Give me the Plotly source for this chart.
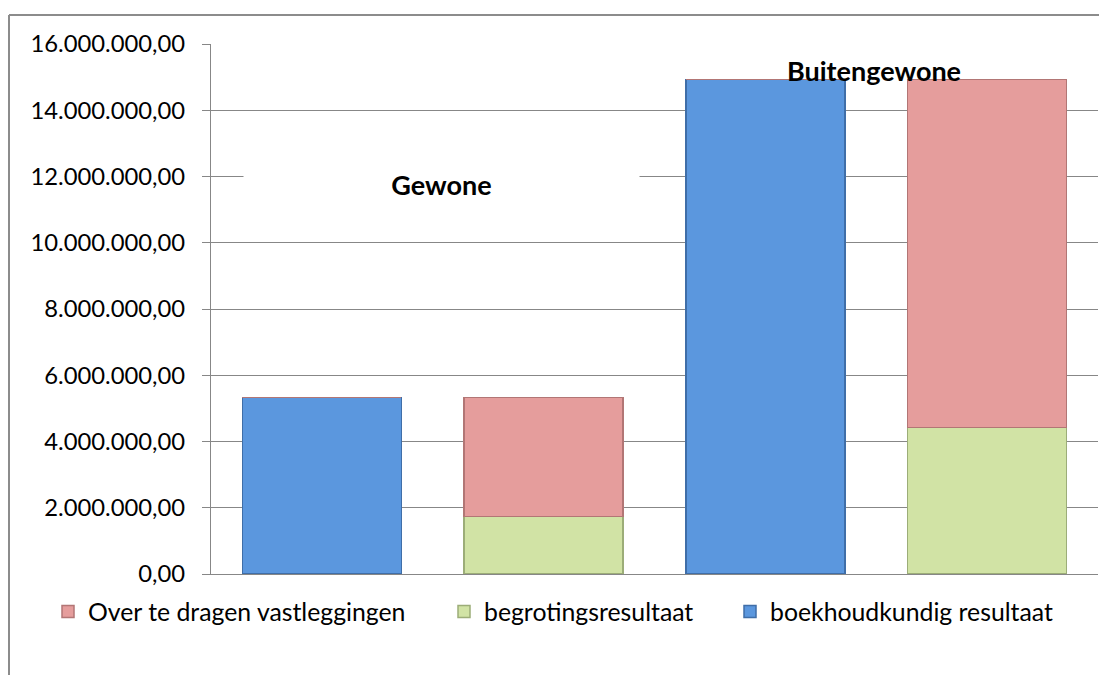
import plotly.graph_objects as go

categories = ["Gewone A", "Gewone B", "Buitengewone A", "Buitengewone B"]
boekhoudkundig = [5330000, 0, 14930000, 0]
begrotingsresultaat = [0, 1730000, 0, 4420000]
over_te_dragen = [0, 3600000, 0, 10510000]
tick_vals = [0, 2e6, 4e6, 6e6, 8e6, 10e6, 12e6, 14e6, 16e6]

FONT = "Lato"
OFF = 8  # page body margin
W, H = 1107 - OFF, 675 - OFF
L, R, T, B = 211 - OFF, 9, 44 - OFF, 101
pw, ph = W - L - R, H - T - B

def px_x(p):
    # screen pixel x -> paper coordinate
    return (p - OFF - L) / pw

def px_y(p):
    # screen pixel y -> paper coordinate
    return (H - B - (p - OFF)) / ph

fig = go.Figure()
fig.add_trace(go.Bar(x=categories, y=boekhoudkundig, name="boekhoudkundig resultaat",
                     marker=dict(color="#5B97DE", line=dict(color="#3F6EA8", width=1.5)),
                     legend="legend3"))
fig.add_trace(go.Bar(x=categories, y=begrotingsresultaat, name="begrotingsresultaat",
                     marker=dict(color="#D1E3A5", line=dict(color="#9CAD78", width=1.5)),
                     legend="legend2"))
fig.add_trace(go.Bar(x=categories, y=over_te_dragen, name="Over te dragen vastleggingen",
                     marker=dict(color="#E59D9C", line=dict(color="#B27675", width=1.5)),
                     legend="legend"))

leg_common = dict(orientation="h", yanchor="middle", y=px_y(612), xanchor="left",
                  font=dict(family=FONT, size=24.8, color="#000000"),
                  bgcolor="rgba(0,0,0,0)", borderwidth=0)

fig.update_layout(
    width=W, height=H,
    margin=dict(l=L, r=R, t=T, b=B),
    paper_bgcolor="white", plot_bgcolor="white",
    barmode="stack", bargap=0.283,
    separators=",.",
    font=dict(family=FONT, size=24, color="#000000"),
    showlegend=True,
    legend=dict(x=px_x(90 - 42), **leg_common),
    legend2=dict(x=px_x(486 - 42), **leg_common),
    legend3=dict(x=px_x(772 - 42), **leg_common),
    xaxis=dict(showticklabels=False, showgrid=False, showline=True,
               linecolor="#878787", linewidth=1.3, ticks="", zeroline=False),
    yaxis=dict(range=[0, 16e6], tickvals=tick_vals, tickformat=",.2f",
               showgrid=True, gridcolor="#878787", gridwidth=1.3,
               showline=True, linecolor="#878787", linewidth=1.3,
               ticks="outside", ticklen=8, tickcolor="#878787", tickwidth=1.3,
               ticklabelstandoff=12, zeroline=False,
               tickfont=dict(family=FONT, size=23.8, color="#000000")),
    annotations=[
        dict(text="<b>Gewone</b>", xref="paper", yref="paper",
             x=px_x(441.5), y=px_y(183.5), xanchor="center", yanchor="middle",
             showarrow=False, font=dict(family=FONT, size=27, color="#000000"),
             bgcolor="white", width=393, height=50),
        dict(text="<b>Buitengewone</b>", xref="paper", yref="paper",
             x=px_x(873.5), y=px_y(71), xanchor="center", yanchor="middle",
             showarrow=False, font=dict(family=FONT, size=27, color="#000000")),
    ],
    shapes=[
        dict(type="line", xref="paper", yref="paper", x0=px_x(9), x1=px_x(9),
             y0=px_y(15), y1=px_y(700), line=dict(color="#8C8C8C", width=2)),
        dict(type="line", xref="paper", yref="paper", x0=px_x(9), x1=px_x(1120),
             y0=px_y(15), y1=px_y(15), line=dict(color="#8C8C8C", width=2)),
    ],
)

fig.write_html("out.html")
